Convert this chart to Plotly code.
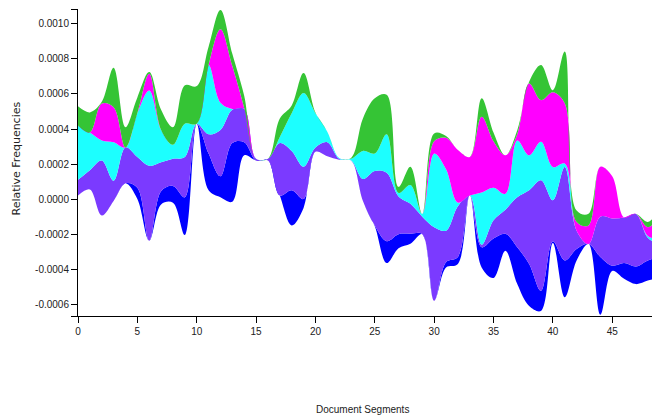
import plotly.graph_objects as go

# Document segment index
segments = list(range(50))

# Stream baseline (wiggle offset), units of 1e-4
baseline = [0.2, 0.55, -0.93, -0.1, 0.9, 0.0, -2.37, -0.3, -0.2, -2.05,
            4.3, 0.5, 0.1, -0.15, 2.5, 2.2, 2.2, 0.2, -1.5, -0.5,
            2.7, 2.45, 2.25, 2.2, -0.1, -1.55, -3.65, -2.8, -2.55, -2.0,
            -5.8, -3.9, -3.7, 0.2, -3.9, -4.5, -2.95, -4.85, -6.1, -6.38,
            -2.5, -5.6, -3.5, -2.56, -6.6, -4.1, -4.55, -4.85, -4.65, -4.5]

# Relative frequencies of each topic per segment, units of 1e-4
topic_blue = [0, 0, 0, 0, 0, 0.65, 0, 0.75, 0.95, 2.15,
              0, 2.1, 1.2, 3.35, 0.75, 0, 0, 0, 2.0, 0.5,
              0, 0, 0, 0, 0, 0.05, 1.25, 0.8, 0.57, 0,
              0, 0.3, 0.4, 0, 1.15, 2.25, 0.97, 2.1, 2.4, 1.15,
              0.1, 2.1, 0.65, 0, 3.3, 0.3, 0.9, 1.0, 1.15, 1.2]
topic_purple = [0.9, 1.1, 3.13, 1.15, 2.05, 1.75, 4.27, 1.65, 1.55, 2.3,
                0, 1.1, 2.65, 1.9, 1.9, 0.1, 0.1, 3.0, 2.25, 1.85,
                0.25, 0.8, 0.05, 0.02, 1.25, 3.1, 3.9, 2.15, 1.71, 1.0,
                4.2, 1.8, 2.9, 0, 0.15, 1.05, 1.38, 2.85, 4.2, 6.3,
                2.33, 5.33, 1.05, 0, 2.3, 2.7, 2.6, 3.0, 1.3, 0.7]
topic_cyan = [3.1, 2.15, 1.15, 2.2, 0, 2.5, 4.3, 1.85, 0.8, 1.9,
              0, 3.95, 1.55, 0.05, 0, 0, 0, 0.35, 2.15, 4.2,
              1.95, 0.6, 0.05, 0.08, 1.6, 1.0, 2.2, 0.2, 1.07, 0.15,
              4.2, 3.5, 0.2, 0, 2.98, 1.85, 0.9, 3.25, 2.0, 2.2,
              1.9, 0.2, 0, 0, 0, 0, 0, 0, 0.1, 0.3]
topic_magenta = [0, 0, 2.1, 2.0, 0, 0, 0.95, 0, 0, 0,
                 0, 0, 4.2, 2.45, 0.05, 0, 0, 0, 0, 0,
                 0, 0, 0, 0, 0, 0, 0, 0, 0, 0,
                 0.7, 1.8, 3.0, 2.2, 4.32, 2.65, 2.2, 0.35, 4.1, 2.38,
                 4.27, 3.44, 0.5, 1.06, 2.85, 2.4, 0, 0, 0.5, 1.3]
topic_green = [1.1, 1.15, 0.1, 2.25, 1.15, 0.9, 0.1, 1.15, 1.0, 2.2,
               2.15, 1.05, 1.1, 0.7, 0.7, 0, 0, 1.05, 0.45, 1.15,
               0.05, 0, 0, 0.05, 1.85, 3.15, 2.25, 0.35, 1.05, 0,
               0.45, 0.1, 0, 0, 1.05, 0.5, 0, 0.23, 0.1, 2.01,
               0.12, 2.95, 0.65, 0.66, 0, 0, 0, 0, 0.3, 0.5]

UNIT = 1e-4
layers = [
    ("Topic 1", topic_blue, "#0000ff"),
    ("Topic 2", topic_purple, "#7b3aff"),
    ("Topic 3", topic_cyan, "#1cffff"),
    ("Topic 4", topic_magenta, "#ff00ff"),
    ("Topic 5", topic_green, "#35c435"),
]

x_tick_vals = [0, 5, 10, 15, 20, 25, 30, 35, 40, 45]
x_tick_labels = ["0", "5", "10", "15", "20", "25", "30", "35", "40", "45"]
y_tick_vals = [-0.0006, -0.0004, -0.0002, 0.0, 0.0002, 0.0004, 0.0006, 0.0008, 0.0010]
y_tick_labels = ["-0.0006", "-0.0004", "-0.0002", "0.0000", "0.0002",
                 "0.0004", "0.0006", "0.0008", "0.0010"]

fig = go.Figure()
running = [b * UNIT for b in baseline]
lo = min(running)
fig.add_trace(go.Scatter(x=segments, y=running, mode="lines",
                         line=dict(width=0, shape="spline", smoothing=1),
                         hoverinfo="skip", showlegend=False))
for name, vals, color in layers:
    running = [r + v * UNIT for r, v in zip(running, vals)]
    fig.add_trace(go.Scatter(x=segments, y=running, mode="lines", name=name,
                             line=dict(width=0, shape="spline", smoothing=1, color=color),
                             fill="tonexty", fillcolor=color, showlegend=False))
hi = max(running)
y_lo, y_hi = lo - 0.07e-4, hi + 0.05e-4

tick_font = dict(family="Liberation Sans, Arial, sans-serif", size=10, color="#222")
fig.update_layout(
    width=652, height=418,
    margin=dict(l=78, r=0, t=9, b=102),
    paper_bgcolor="white", plot_bgcolor="white",
    showlegend=False,
    xaxis=dict(range=[0, 48.35], tickvals=x_tick_vals, ticktext=x_tick_labels,
               ticks="outside", ticklen=6, tickcolor="#000", showline=True,
               linecolor="#000", linewidth=1, showgrid=False, zeroline=False,
               tickfont=tick_font),
    yaxis=dict(range=[y_lo, y_hi], tickvals=y_tick_vals + [y_lo, y_hi],
               ticktext=y_tick_labels + ["", ""],
               ticks="outside", ticklen=6, tickcolor="#000", showline=True,
               linecolor="#000", linewidth=1, showgrid=False, zeroline=False,
               tickfont=tick_font),
    annotations=[
        dict(text="Relative Frequencies", xref="paper", yref="paper", x=0, y=0.513,
             xshift=-61, textangle=-90, showarrow=False, xanchor="center", yanchor="middle",
             font=dict(family="DejaVu Sans, sans-serif", size=11, color="#222")),
        dict(text="Document Segments", xref="paper", yref="paper", x=0.495, y=-0.303,
             showarrow=False, xanchor="center", yanchor="middle",
             font=dict(family="Liberation Sans, Arial, sans-serif", size=10, color="#222")),
    ],
)

fig.write_html(
    "out.html",
    config={"displayModeBar": False},
    post_script="document.body.style.margin='0';document.body.style.overflow='hidden';",
)
